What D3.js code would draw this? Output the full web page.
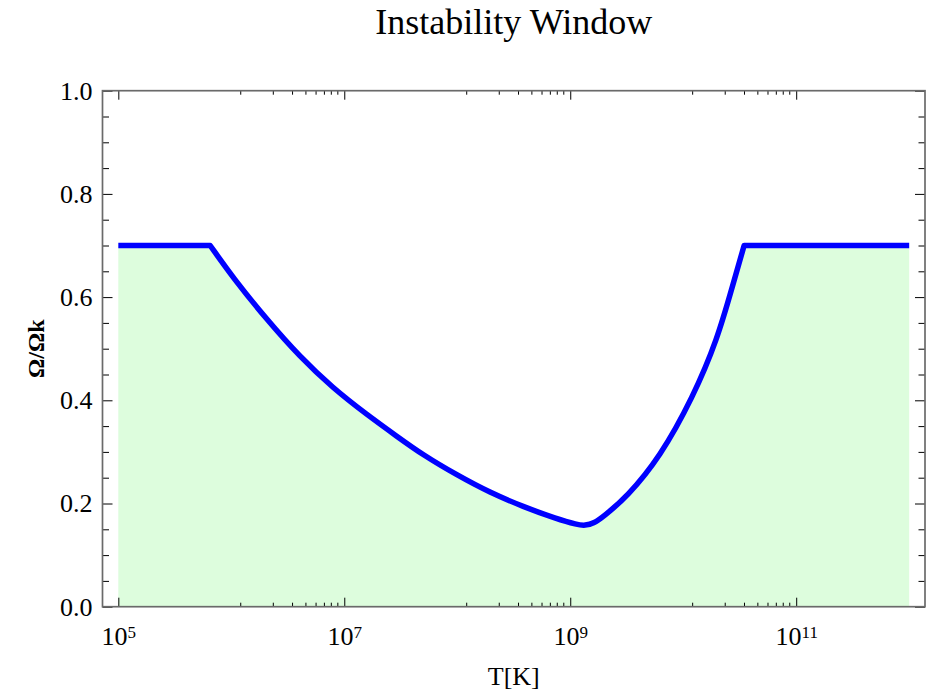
<!DOCTYPE html>
<html>
<head>
<meta charset="utf-8">
<script src="https://cdnjs.cloudflare.com/ajax/libs/d3/7.8.5/d3.min.js"></script>
<style>
  body { margin: 0; background: #fff; }
  text { font-family: "Liberation Serif", "Times New Roman", serif; fill: #000; }
</style>
</head>
<body>
<div id="chart"></div>
<script>
// values
const temps = [1e5, 6.5e5, 1.04e6, 2.07e6, 4.06e6, 7.9e6, 1.59e7, 2.93e7, 4.98e7, 9.95e7,
  1.95e8, 3.82e8, 7.64e8, 1.15e9, 1.35e9, 1.63e9, 1.95e9, 3.18e9, 6.24e9, 1.22e10, 2.0e10,
  2.76e10, 3.46e10, 1e12];
const omega = [0.70, 0.70, 0.637, 0.556, 0.484, 0.424, 0.372, 0.330, 0.294, 0.255,
  0.221, 0.194, 0.170, 0.159, 0.157, 0.162, 0.174, 0.213, 0.290, 0.406, 0.517,
  0.625, 0.70, 0.70];

const yTicks = [0, 0.2, 0.4, 0.6, 0.8, 1.0];
const yMinorTicks = [0.05, 0.1, 0.15, 0.25, 0.3, 0.35, 0.45, 0.5, 0.55, 0.65, 0.7, 0.75, 0.85, 0.9, 0.95];
const xTicks = [1e5, 1e7, 1e9, 1e11];
const xTickExp = ["5", "7", "9", "11"];
// minor ticks sit below each labelled decade (fractions of it)
const xMinorFrac = [0.12, 0.233, 0.345, 0.453, 0.557, 0.66, 0.76, 0.868];
const xMinorBase = [1e7, 1e9, 1e11];

const title = "Instability Window";
const xLabel = "T[K]";
const yLabel = "Ω/Ωk";

const W = 930, H = 694;
const pLeft = 102.5, pRight = 925, pTop = 90.7, pBottom = 606.7;

const svg = d3.select("#chart").append("svg")
  .attr("width", W).attr("height", H);

const x = d3.scaleLog().domain([Math.pow(10, 4.86), Math.pow(10, 12.14)]).range([pLeft, pRight]);
const y = d3.scaleLinear().domain([0, 1]).range([pBottom, pTop]);

// curve: flat pieces straight, middle smoothed
const pts = temps.map((t, i) => [x(t), y(omega[i])]);
const n = pts.length;
const smooth = d3.line().curve(d3.curveBasis)(pts.slice(1, n - 1));
const curveStr = `M${pts[0]}L${pts[1]}` + smooth.replace(/^M[^LC]*/, "") + `L${pts[n - 1]}`;
const areaStr = curveStr + `L${x(temps[n - 1])},${y(0)}L${x(temps[0])},${y(0)}Z`;

svg.append("path")
  .attr("d", areaStr)
  .attr("fill", "#ddfddd")
  .attr("stroke", "none");

const xMinor = [];
xMinorBase.forEach((b) => xMinorFrac.forEach((f) => xMinor.push(b * f)));

const noLabel = () => "";
const clean = (g) => g.select(".domain").remove();

// bottom
const xb = svg.append("g").attr("transform", `translate(0,${pBottom})`)
  .call(d3.axisBottom(x).tickValues(xTicks).tickSizeInner(-9).tickSizeOuter(0).tickPadding(20).tickFormat(noLabel))
  .call(clean);
xb.selectAll(".tick text").each(function (d, i) {
  const t = d3.select(this).attr("font-size", 26);
  t.append("tspan").text("10");
  t.append("tspan").attr("dy", "-0.4em").attr("font-size", 17).text(xTickExp[i]);
});
svg.append("g").attr("transform", `translate(0,${pBottom})`)
  .call(d3.axisBottom(x).tickValues(xMinor).tickSizeInner(-4).tickSizeOuter(0).tickFormat(noLabel))
  .call(clean);

// top
svg.append("g").attr("transform", `translate(0,${pTop})`)
  .call(d3.axisTop(x).tickValues(xTicks).tickSizeInner(-9).tickSizeOuter(0).tickFormat(noLabel))
  .call(clean);
svg.append("g").attr("transform", `translate(0,${pTop})`)
  .call(d3.axisTop(x).tickValues(xMinor).tickSizeInner(-4).tickSizeOuter(0).tickFormat(noLabel))
  .call(clean);

// left
svg.append("g").attr("transform", `translate(${pLeft},0)`)
  .call(d3.axisLeft(y).tickValues(yTicks).tickSizeInner(-10).tickSizeOuter(0).tickPadding(10).tickFormat(d3.format(".1f")))
  .call(clean)
  .selectAll("text").attr("font-size", 26);
svg.append("g").attr("transform", `translate(${pLeft},0)`)
  .call(d3.axisLeft(y).tickValues(yMinorTicks).tickSizeInner(-6.5).tickSizeOuter(0).tickFormat(noLabel))
  .call(clean);

// right
svg.append("g").attr("transform", `translate(${pRight},0)`)
  .call(d3.axisRight(y).tickValues(yTicks).tickSizeInner(-10).tickSizeOuter(0).tickFormat(noLabel))
  .call(clean);
svg.append("g").attr("transform", `translate(${pRight},0)`)
  .call(d3.axisRight(y).tickValues(yMinorTicks).tickSizeInner(-6.5).tickSizeOuter(0).tickFormat(noLabel))
  .call(clean);

svg.selectAll(".tick line").attr("stroke", "#000").attr("stroke-width", 1);
svg.selectAll("g text").attr("font-family", "'Liberation Serif', serif");

// frame
svg.append("rect")
  .attr("x", pLeft).attr("y", pTop)
  .attr("width", pRight - pLeft).attr("height", pBottom - pTop)
  .attr("fill", "none")
  .attr("stroke", "#6a6a6a")
  .attr("stroke-width", 1.7);

svg.append("path")
  .attr("d", curveStr)
  .attr("fill", "none")
  .attr("stroke", "#0000ff")
  .attr("stroke-width", 5.5)
  .attr("stroke-linejoin", "round");

svg.append("text")
  .attr("x", (pLeft + pRight) / 2).attr("y", 34)
  .attr("text-anchor", "middle")
  .attr("font-size", 36)
  .text(title);

svg.append("text")
  .attr("x", (pLeft + pRight) / 2).attr("y", 685)
  .attr("text-anchor", "middle")
  .attr("font-size", 26)
  .text(xLabel);

svg.append("text")
  .attr("transform", `translate(36,${(pTop + pBottom) / 2}) rotate(-90)`)
  .attr("text-anchor", "middle")
  .attr("dy", "0.35em")
  .attr("font-size", 24)
  .attr("font-weight", "bold")
  .text(yLabel);
</script>
</body>
</html>
